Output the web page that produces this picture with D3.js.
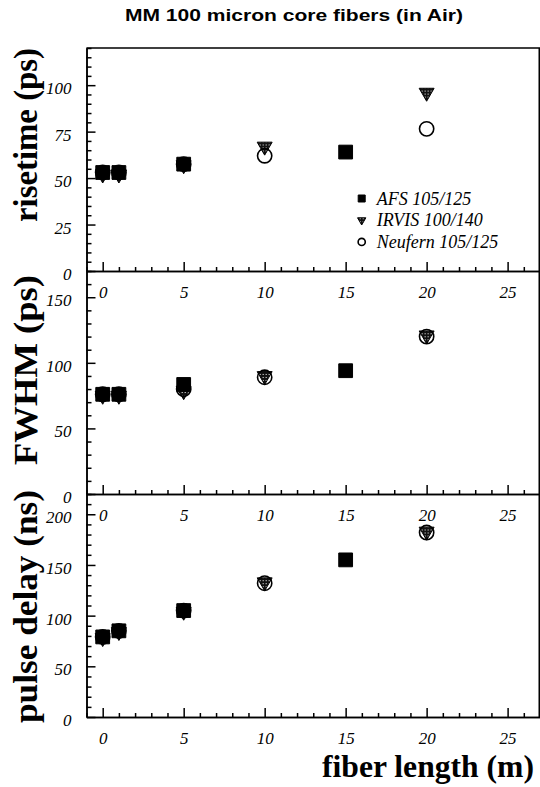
<!DOCTYPE html>
<html>
<head>
<meta charset="utf-8">
<script src="https://cdn.jsdelivr.net/npm/d3@7"></script>
<style>
  body { margin: 0; background: #fff; }
  svg { display: block; }
</style>
</head>
<body>
<div id="wrapper"></div>
<script>
// fiber lengths (m) measured for each fibre type
const afsLength = [0, 1, 5, 15]
const irvisLength = [0, 1, 5, 10, 20]
const neufernLength = [0, 1, 5, 10, 20]

// risetime (ps)
const afsRisetime = [53, 53, 57.5, 64]
const irvisRisetime = [52, 52, 57, 67, 96]
const neufernRisetime = [53, 53, 57.5, 62, 76.5]

// FWHM (ps)
const afsFwhm = [76, 76, 83.5, 94]
const irvisFwhm = [75, 75, 78.5, 90, 121]
const neufernFwhm = [76, 76, 80, 89, 120]

// pulse delay (ns)
const afsDelay = [79, 85, 105, 155]
const irvisDelay = [78, 84, 104, 133, 183]
const neufernDelay = [79, 85, 105, 132, 182]

const seriesNames = ["AFS 105/125", "IRVIS 100/140", "Neufern 105/125"]
const panelTitles = ["risetime (ps)", "FWHM (ps)", "pulse delay (ns)"]
const panelMax = [120, 170, 220]
const panelMajorStep = [25, 50, 50]
const panelMinorStep = [5, 10, 10]
const xTickLabels = [0, 5, 10, 15, 20, 25]

const dimensions = {
    width: 540,
    height: 787,
    frameTop: 48,
    panelHeight: 223,
    left: 86.5,
    right: 540,
}

const lengths = [afsLength, irvisLength, neufernLength]
const panels = [
    { title: panelTitles[0], max: panelMax[0], major: panelMajorStep[0], minor: panelMinorStep[0],
      values: [afsRisetime, irvisRisetime, neufernRisetime], titleLen: 174, titleEnd: 48 },
    { title: panelTitles[1], max: panelMax[1], major: panelMajorStep[1], minor: panelMinorStep[1],
      values: [afsFwhm, irvisFwhm, neufernFwhm], titleLen: 190, titleEnd: 275 },
    { title: panelTitles[2], max: panelMax[2], major: panelMajorStep[2], minor: panelMinorStep[2],
      values: [afsDelay, irvisDelay, neufernDelay], titleLen: 233, titleEnd: 490 },
]

const serif = "'Liberation Serif', 'Times New Roman', serif"

const svg = d3.select("#wrapper")
    .append("svg")
    .attr("width", dimensions.width)
    .attr("height", dimensions.height)

// dithered fill for the triangles
const pattern = svg.append("defs").append("pattern")
    .attr("id", "dither")
    .attr("width", 3)
    .attr("height", 3)
    .attr("patternUnits", "userSpaceOnUse")
pattern.append("rect").attr("width", 3).attr("height", 3).attr("fill", "#111")
pattern.append("rect").attr("x", 1).attr("y", 1).attr("width", 1).attr("height", 1).attr("fill", "#fff")

svg.append("text")
    .attr("x", 294)
    .attr("y", 21)
    .attr("text-anchor", "middle")
    .attr("textLength", 338)
    .attr("lengthAdjust", "spacingAndGlyphs")
    .style("font-family", "'Liberation Sans', Arial, sans-serif")
    .style("font-weight", "bold")
    .style("font-size", "16px")
    .text("MM 100 micron core fibers (in Air)")

const xScale = d3.scaleLinear()
    .domain([-1, 27])
    .range([dimensions.left, dimensions.right])

const symbols = [
    d3.symbol(d3.symbolSquare, 190),
    d3.symbol(d3.symbolTriangle, 97),
    d3.symbol(d3.symbolCircle, 160),
]
const legendSymbols = [
    d3.symbol(d3.symbolSquare, 49),
    d3.symbol(d3.symbolTriangle, 30),
    d3.symbol(d3.symbolCircle, 40),
]
const symbolFill = ["#000", "url(#dither)", "none"]
const symbolRotate = [0, 180, 0]
const drawOrder = [1, 2, 0]

const drawMarker = (g, s, shapes, x, y) => {
    g.append("path")
        .attr("d", shapes[s]())
        .attr("transform", `translate(${x},${y}) rotate(${symbolRotate[s]})`)
        .attr("fill", symbolFill[s])
        .attr("stroke", "#000")
        .attr("stroke-width", s === 2 ? 1.6 : 1)
}

panels.forEach((p, i) => {
    const top = dimensions.frameTop + i * dimensions.panelHeight
    const bottom = top + dimensions.panelHeight

    const yScale = d3.scaleLinear()
        .domain([0, p.max])
        .range([bottom, top])

    const bounds = svg.append("g")

    // y axis: minor ticks, then major ticks with labels
    bounds.append("g")
        .attr("transform", `translate(${dimensions.left},0)`)
        .call(d3.axisLeft(yScale)
            .tickValues(d3.range(0, p.max + 0.1, p.minor).filter(v => v % p.major !== 0))
            .tickSizeInner(-5).tickSizeOuter(0).tickFormat(""))
    const yAxisEl = bounds.append("g")
        .attr("transform", `translate(${dimensions.left},0)`)
        .call(d3.axisLeft(yScale)
            .tickValues(d3.range(0, p.max + 0.1, p.major))
            .tickSizeInner(-9).tickSizeOuter(0).tickPadding(15))
    yAxisEl.selectAll("text")
        .attr("dy", "0.5em")
        .style("font-family", serif)
        .style("font-style", "italic")
        .style("font-size", "17px")

    // x axis: ticks point up into the panel
    bounds.append("g")
        .attr("transform", `translate(0,${bottom})`)
        .call(d3.axisBottom(xScale)
            .tickValues(d3.range(-1, 28).filter(v => v % 5 !== 0))
            .tickSizeInner(-4).tickSizeOuter(0).tickFormat(""))
    const xAxisEl = bounds.append("g")
        .attr("transform", `translate(0,${bottom})`)
        .call(d3.axisBottom(xScale)
            .tickValues(xTickLabels)
            .tickSizeInner(-9).tickSizeOuter(0).tickPadding(15))
    xAxisEl.selectAll("text")
        .style("font-family", serif)
        .style("font-style", "italic")
        .style("font-size", "17px")

    bounds.selectAll(".domain, .tick line")
        .attr("stroke", "#000")
        .attr("stroke-width", 1.5)

    bounds.append("text")
        .attr("transform", `translate(37,${p.titleEnd}) rotate(-90)`)
        .attr("text-anchor", "end")
        .attr("textLength", p.titleLen)
        .attr("lengthAdjust", "spacingAndGlyphs")
        .style("font-family", serif)
        .style("font-weight", "bold")
        .style("font-size", "33px")
        .text(p.title)

    const markers = bounds.append("g")
    drawOrder.forEach(s => {
        p.values[s].forEach((v, j) => {
            drawMarker(markers, s, symbols, xScale(lengths[s][j]), yScale(v))
        })
    })

    if (i === 0) {
        const legend = bounds.append("g")
        seriesNames.forEach((name, s) => {
            const ly = 198.5 + s * 21.7
            drawMarker(legend, s, legendSymbols, 361.7, ly)
            legend.append("text")
                .attr("x", 376.7)
                .attr("y", ly + 6)
                .style("font-family", serif)
                .style("font-style", "italic")
                .style("font-size", "18px")
                .text(name)
        })
    }
})

svg.append("text")
    .attr("x", 322)
    .attr("y", 777)
    .attr("textLength", 212)
    .attr("lengthAdjust", "spacingAndGlyphs")
    .style("font-family", serif)
    .style("font-weight", "bold")
    .style("font-size", "31px")
    .text("fiber length (m)")

// frame top and right edges
svg.append("path")
    .attr("d", `M${dimensions.left},${dimensions.frameTop}H${dimensions.right - 0.75}V${dimensions.frameTop + 3 * dimensions.panelHeight}`)
    .attr("fill", "none")
    .attr("stroke", "#000")
    .attr("stroke-width", 1.5)
</script>
</body>
</html>
